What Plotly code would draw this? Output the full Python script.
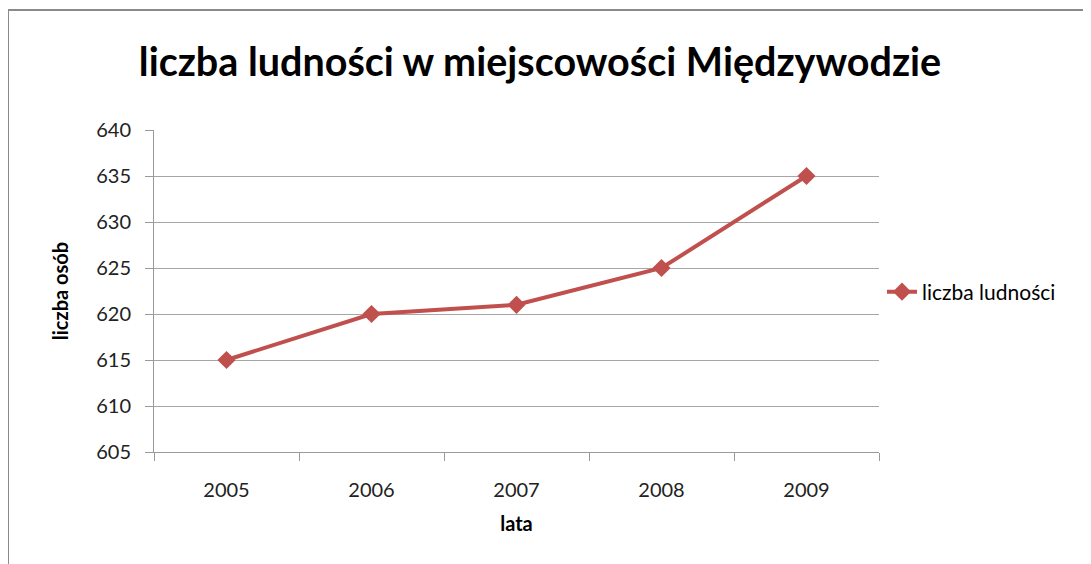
import plotly.graph_objects as go

years = ["2005", "2006", "2007", "2008", "2009"]
population = [615, 620, 621, 625, 635]
y_ticks = [605, 610, 615, 620, 625, 630, 635, 640]

OFF = 8  # page body margin offset
W, H = 1091 - OFF, 564 - OFF
L, R, T, B = 154 - OFF, 879 - OFF, 130 - OFF, 452 - OFF
pw, ph = R - L, B - T

def px(x):
    return (x - OFF - L) / pw

def py(y):
    return (B - (y - OFF)) / ph

fig = go.Figure()
fig.add_trace(go.Scatter(
    x=years, y=population, mode="lines+markers", name="liczba ludności",
    line=dict(color="#C0504D", width=4),
    marker=dict(symbol="diamond", size=14, color="#C0504D"),
))

FONT = "Lato, 'Open Sans', sans-serif"
fig.update_layout(
    width=W, height=H,
    margin=dict(l=L, r=W - R, t=T, b=H - B, autoexpand=False),
    paper_bgcolor="white", plot_bgcolor="white",
    title=dict(text="<b>liczba ludności w miejscowości Międzywodzie</b>",
               x=px(540), xanchor="center", y=1 - (62 - OFF) / H, yanchor="middle",
               xref="paper",
               font=dict(family=FONT, size=39.5, color="black")),
    xaxis=dict(type="category", tickson="boundaries", range=[-0.5, 4.5],
               ticks="outside", ticklen=8, ticklabelstandoff=20,
               tickcolor="#9a9a9a", showline=True, linecolor="#9a9a9a", linewidth=1,
               showgrid=False, tickfont=dict(family=FONT, size=20, color="#222"),
               title=dict(text="<b>lata</b>", font=dict(family=FONT, size=20, color="black"),
                          standoff=16)),
    yaxis=dict(range=[605, 640], tickvals=y_ticks, ticks="outside", ticklen=8,
               ticklabelstandoff=10,
               tickcolor="#9a9a9a", showline=True, linecolor="#9a9a9a", linewidth=1,
               showgrid=True, gridcolor="#a6a6a6", gridwidth=1, zeroline=False,
               tickfont=dict(family=FONT, size=20, color="#222"),
               title=dict(text="<b>liczba osób</b>", font=dict(family=FONT, size=20, color="black"),
                          standoff=22)),
    legend=dict(x=px(882), y=py(292), xanchor="left", yanchor="middle",
                font=dict(family=FONT, size=21, color="black"),
                bgcolor="rgba(0,0,0,0)"),
    showlegend=True,
    shapes=[dict(type="rect", xref="paper", yref="paper",
                 x0=px(8), x1=px(1110), y0=py(580), y1=py(10),
                 line=dict(color="#8a8a8a", width=2), fillcolor="rgba(0,0,0,0)",
                 layer="below")],
)

fig.write_html("out.html")
